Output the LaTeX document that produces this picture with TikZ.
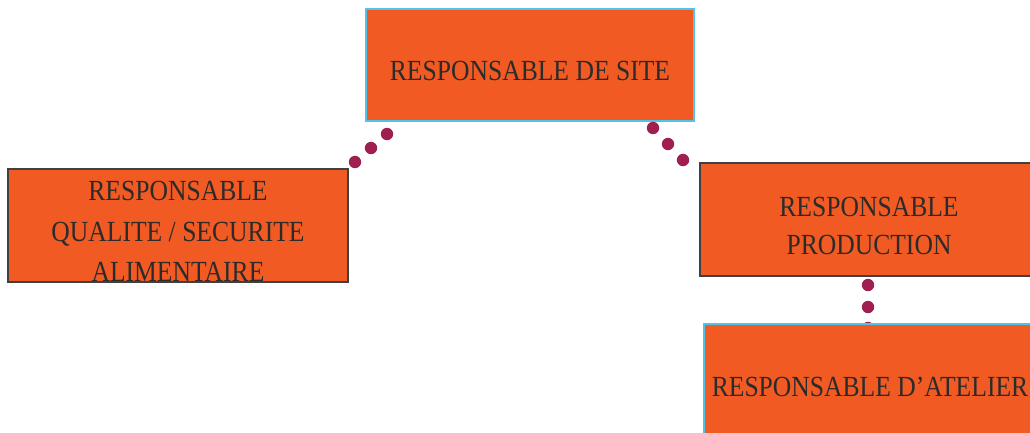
\documentclass[tikz,border=0pt]{standalone}
\usepackage{fontspec}
\setmainfont{Liberation Serif}
\definecolor{boxorange}{HTML}{F15A22}
\definecolor{edgeblue}{HTML}{4FC3E8}
\definecolor{edgegray}{HTML}{404040}
\definecolor{dotred}{HTML}{9E1F50}
\definecolor{txtgray}{HTML}{2B2B2B}
\newcommand{\vstretch}[1]{\scalebox{1}[1.14]{#1}}
\tikzset{
  box/.style={draw, fill=boxorange, line width=1.3pt, inner sep=0pt},
  bluebox/.style={box, draw=edgeblue},
  graybox/.style={box, draw=edgegray},
  lbl/.style={text=txtgray, inner sep=0pt, anchor=base,
    font=\fontsize{25.6}{40}\selectfont},
}
\begin{document}
\begin{tikzpicture}[x=1pt,y=-1pt]
  \useasboundingbox (0,0) rectangle (1030,432);
  \clip (0,0) rectangle (1030,432);
  % boxes
  \node[bluebox, minimum width=328pt, minimum height=112pt] (site) at (530,65) {};
  \node[graybox, minimum width=340pt, minimum height=113pt] (qualite) at (178,225.5) {};
  \node[graybox, minimum width=338pt, minimum height=113pt] (prod) at (869,219.5) {};
  % dots between the boxes
  \foreach \x/\y in {355/162, 371/148, 387/134, 653/128, 668/144, 683/160, 868/285, 868/307, 868/328}
    \fill[dotred] (\x,\y) circle(6.2pt);
  \node[bluebox, minimum width=332pt, minimum height=113pt] (atelier) at (870,380.5) {};
  % labels
  \node[lbl] (site-txt) at (530,80) {\vstretch{RESPONSABLE DE SITE}};
  \node[lbl] (qualite-txt1) at (178,200) {\vstretch{RESPONSABLE}};
  \node[lbl] (qualite-txt2) at (178,241) {\vstretch{QUALITE / SECURITE}};
  \node[lbl] (qualite-txt3) at (178,281) {\vstretch{ALIMENTAIRE}};
  \node[lbl] (prod-txt1) at (869,216) {\vstretch{RESPONSABLE}};
  \node[lbl] (prod-txt2) at (869,254) {\vstretch{PRODUCTION}};
  \node[lbl] (atelier-txt) at (870,396) {\vstretch{RESPONSABLE D'ATELIER}};
\end{tikzpicture}
\end{document}
